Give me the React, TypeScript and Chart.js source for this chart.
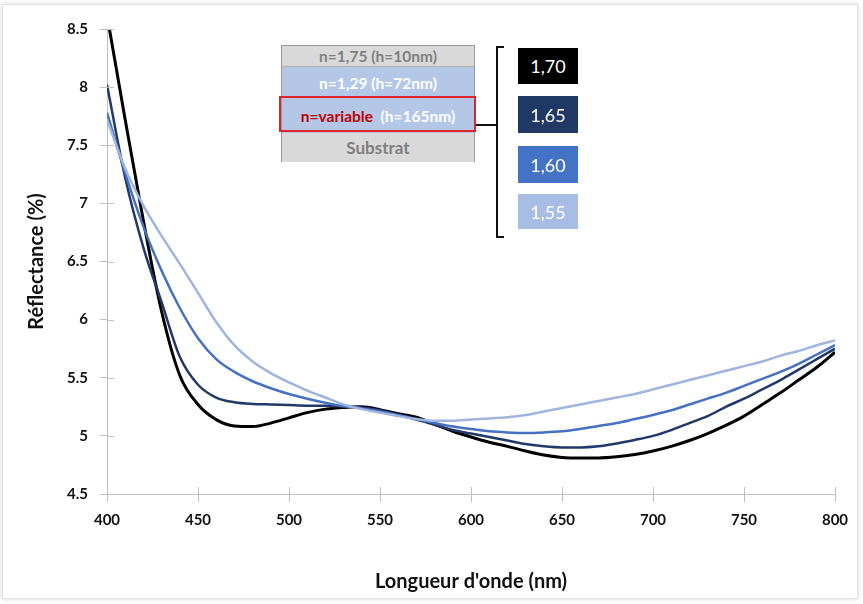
import React, { useEffect, useRef } from "react";
import { Chart, registerables } from "chart.js";

Chart.register(...registerables);

const wavelengths = [400, 410, 420, 430, 440, 450, 460, 470, 480, 490, 500, 510, 520, 530, 540, 550, 560, 570, 580, 590, 600, 610, 620, 630, 640, 650, 660, 670, 680, 690, 700, 710, 720, 730, 740, 750, 760, 770, 780, 790, 800];

const r170 = [8.62, 7.72, 6.85, 6.07, 5.52, 5.27, 5.14, 5.085, 5.08, 5.11, 5.155, 5.2, 5.23, 5.245, 5.25, 5.225, 5.19, 5.16, 5.1, 5.04, 4.99, 4.945, 4.91, 4.87, 4.835, 4.815, 4.81, 4.81, 4.82, 4.84, 4.87, 4.91, 4.96, 5.02, 5.09, 5.17, 5.27, 5.37, 5.48, 5.59, 5.72];
const r165 = [8.02, 7.22, 6.62, 6.15, 5.68, 5.44, 5.33, 5.29, 5.275, 5.27, 5.265, 5.26, 5.26, 5.255, 5.245, 5.22, 5.18, 5.14, 5.095, 5.05, 5.02, 4.99, 4.96, 4.93, 4.91, 4.9, 4.9, 4.91, 4.935, 4.965, 5.0, 5.05, 5.11, 5.17, 5.25, 5.32, 5.4, 5.48, 5.57, 5.66, 5.75];
const r160 = [7.78, 7.26, 6.8, 6.42, 6.1, 5.84, 5.66, 5.55, 5.47, 5.41, 5.36, 5.32, 5.285, 5.255, 5.235, 5.21, 5.18, 5.145, 5.11, 5.08, 5.06, 5.04, 5.03, 5.025, 5.03, 5.04, 5.06, 5.085, 5.11, 5.145, 5.18, 5.22, 5.27, 5.32, 5.37, 5.43, 5.49, 5.55, 5.62, 5.7, 5.78];
const r155 = [7.72, 7.3, 6.98, 6.72, 6.48, 6.23, 5.98, 5.78, 5.64, 5.54, 5.46, 5.39, 5.33, 5.27, 5.23, 5.2, 5.17, 5.145, 5.13, 5.13, 5.14, 5.15, 5.16, 5.18, 5.21, 5.24, 5.27, 5.3, 5.33, 5.36, 5.4, 5.44, 5.48, 5.52, 5.56, 5.6, 5.64, 5.69, 5.73, 5.78, 5.82];

const seriesLabels = ["1,70", "1,65", "1,60", "1,55"];
const seriesColors = ["#000000", "#21396a", "#4670c0", "#9fb5de"];
const legendBg = ["#000000", "#203864", "#4472c4", "#a8bde3"];
const xTicks = [400, 450, 500, 550, 600, 650, 700, 750, 800];
const yTicks = [4.5, 5, 5.5, 6, 6.5, 7, 7.5, 8, 8.5];

const FONT = "Lato, 'Open Sans', sans-serif";

export default function App() {
  const ref = useRef<HTMLCanvasElement | null>(null);

  useEffect(() => {
    if (!ref.current) return;
    const all = [r170, r165, r160, r155];
    const crossTicks = {
      id: "crossTicks",
      afterDraw(chart: any) {
        const { ctx, chartArea } = chart;
        const xs = chart.scales.x;
        const ys = chart.scales.y;
        ctx.save();
        ctx.strokeStyle = "#bfbfbf";
        ctx.lineWidth = 1;
        ctx.beginPath();
        xTicks.forEach((v) => {
          const px = Math.round(xs.getPixelForValue(v)) + 0.5;
          ctx.moveTo(px, chartArea.bottom);
          ctx.lineTo(px, chartArea.bottom - 7);
        });
        yTicks.forEach((v) => {
          const py = Math.round(ys.getPixelForValue(v)) + 0.5;
          ctx.moveTo(chartArea.left, py);
          ctx.lineTo(chartArea.left + 7, py);
        });
        ctx.stroke();
        ctx.restore();
      },
    };
    const chart = new Chart(ref.current, {
      type: "line",
      data: {
        datasets: all.map((arr, i) => ({
          label: seriesLabels[i],
          data: wavelengths.map((w, j) => ({ x: w, y: arr[j] })),
          borderColor: seriesColors[i],
          backgroundColor: seriesColors[i],
          borderWidth: i === 0 ? 3 : 2.5,
          pointRadius: 0,
          cubicInterpolationMode: "monotone" as const,
          fill: false,
        })).reverse(),
      },
      options: {
        animation: false,
        responsive: false,
        maintainAspectRatio: false,
        layout: { padding: { left: 0, right: 28, top: 29, bottom: 0 } },
        plugins: { legend: { display: false }, tooltip: { enabled: false } },
        scales: {
          x: {
            type: "linear",
            min: 400,
            max: 800,
            afterBuildTicks: (s: any) => {
              s.ticks = xTicks.map((v) => ({ value: v }));
            },
            afterFit: (s: any) => {
              s.height = 110;
            },
            border: { color: "#bfbfbf", width: 1 },
            grid: { drawOnChartArea: false, tickLength: 8, color: "#bfbfbf" },
            ticks: {
              color: "#111",
              font: { family: FONT, size: 15, weight: "bold" },
              padding: 9,
              maxRotation: 0,
              callback: (v: any) => String(v),
            },
            title: {
              display: true,
              text: "Longueur d'onde (nm)",
              color: "#111",
              font: { family: FONT, size: 20, weight: "bold" },
              padding: { top: 0, bottom: 10 },
            },
          },
          y: {
            type: "linear",
            min: 4.5,
            max: 8.5,
            afterBuildTicks: (s: any) => {
              s.ticks = yTicks.map((v) => ({ value: v }));
            },
            afterFit: (s: any) => {
              s.width = 107;
            },
            border: { color: "#bfbfbf", width: 1 },
            grid: { drawOnChartArea: false, tickLength: 7, color: "#bfbfbf" },
            ticks: {
              color: "#111",
              font: { family: FONT, size: 15, weight: "bold" },
              padding: 12,
              callback: (v: any) => String(v),
            },
            title: {
              display: true,
              text: "Réflectance (%)",
              color: "#111",
              font: { family: FONT, size: 20, weight: "bold" },
              padding: { top: 25, bottom: 0 },
            },
          },
        },
      },
      plugins: [crossTicks],
    });
    return () => chart.destroy();
  }, []);

  const rowBase: React.CSSProperties = {
    position: "absolute",
    left: 0,
    width: "100%",
    display: "flex",
    alignItems: "center",
    justifyContent: "center",
    fontFamily: FONT,
    fontWeight: "bold",
    fontSize: 15.5,
    whiteSpace: "nowrap",
  };

  const legendTops = [48, 96, 146, 194];
  const legendHeights = [36, 37, 37, 35];

  return (
    <div style={{ position: "fixed", left: 0, top: 0, width: 863, height: 604, background: "#fff", overflow: "hidden" }}>
      <div style={{ position: "absolute", left: 2, top: 4, width: 854, height: 593, border: "1px solid #e2e2e2", boxShadow: "0 0 4px rgba(0,0,0,0.18)" }} />
      <canvas ref={ref} width={863} height={604} style={{ position: "absolute", left: 0, top: 0, width: 863, height: 604 }} />
      <div style={{ position: "absolute", left: 281, top: 45, width: 194, height: 117, border: "1px solid #9a9a9a", boxSizing: "border-box", background: "#d9d9d9" }}>
        <div style={{ ...rowBase, top: 0, height: 21, background: "#d9d9d9", color: "#7f7f7f", borderBottom: "1px solid #b0b0b0", boxSizing: "border-box" }}>n=1,75 (h=10nm)</div>
        <div style={{ ...rowBase, top: 21, height: 31, background: "#b4c7e7", color: "#ffffff" }}>n=1,29 (h=72nm)</div>
        <div style={{ ...rowBase, top: 52, height: 35, background: "#b4c7e7", color: "#ffffff" }}>
          <span style={{ color: "#c00000" }}>n=variable</span>
          <span>&nbsp; (h=165nm)</span>
        </div>
        <div style={{ ...rowBase, top: 87, height: 29, background: "#d9d9d9", color: "#7f7f7f", fontSize: 17 }}>Substrat</div>
      </div>
      <div style={{ position: "absolute", left: 279, top: 96, width: 197, height: 36, border: "2px solid #e3232a", boxSizing: "border-box" }} />
      <div style={{ position: "absolute", left: 476, top: 124, width: 21, height: 2, background: "#111" }} />
      <div style={{ position: "absolute", left: 496, top: 46, width: 2, height: 192, background: "#111" }} />
      <div style={{ position: "absolute", left: 496, top: 46, width: 8, height: 2, background: "#111" }} />
      <div style={{ position: "absolute", left: 496, top: 236, width: 8, height: 2, background: "#111" }} />
      {seriesLabels.map((lab, i) => (
        <div
          key={lab}
          style={{
            position: "absolute",
            left: 518,
            top: legendTops[i],
            width: 60,
            height: legendHeights[i],
            background: legendBg[i],
            color: "#fff",
            display: "flex",
            alignItems: "center",
            justifyContent: "center",
            fontFamily: FONT,
            fontSize: 18,
          }}
        >
          {lab}
        </div>
      ))}
    </div>
  );
}
